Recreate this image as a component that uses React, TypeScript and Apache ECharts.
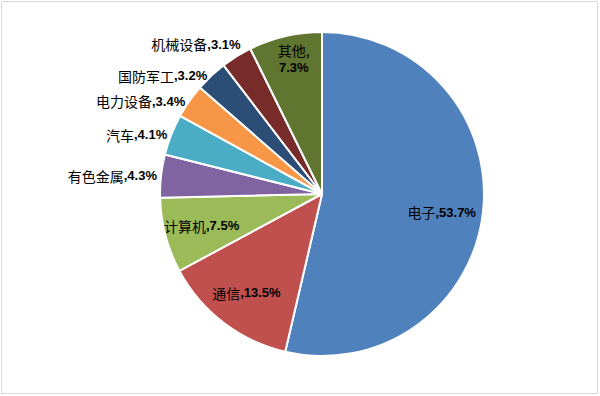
import React, { useEffect, useRef } from "react";
import * as echarts from "echarts";

const categories = ["电子", "通信", "计算机", "有色金属", "汽车", "电力设备", "国防军工", "机械设备", "其他"];
const values = [53.7, 13.5, 7.5, 4.3, 4.1, 3.4, 3.2, 3.1, 7.3];
const colors = ["#4F81BD", "#C0504D", "#9BBB59", "#8064A2", "#4BACC6", "#F79646", "#2C4D75", "#772C2A", "#5F7530"];
const insideLabels = ["电子", "通信", "计算机", "其他"];

export default function App() {
  const ref = useRef<HTMLDivElement>(null);
  useEffect(() => {
    if (!ref.current) return;
    const chart = echarts.init(ref.current, undefined, { renderer: "svg" });
    const rich = {
      a: {
        color: "#000",
        fontSize: 14,
        fontWeight: "normal" as const,
        fontFamily: "'Noto Sans CJK SC', sans-serif",
        lineHeight: 18,
      },
      n: {
        color: "#000",
        fontSize: 13,
        fontWeight: "bold" as const,
        fontFamily: "'Liberation Sans', sans-serif",
        lineHeight: 18,
      },
    };
    chart.setOption({
      animation: false,
      backgroundColor: "#fff",
      graphic: [
        {
          type: "rect",
          shape: { x: 1.5, y: 1.5, width: 596, height: 392 },
          style: { fill: "none", stroke: "#d9d9d9", lineWidth: 1 },
          silent: true,
        },
      ],
      series: [
        {
          type: "pie",
          center: [322, 194],
          radius: 162,
          startAngle: 90,
          clockwise: true,
          silent: true,
          label: { show: false },
          labelLine: { show: false },
          itemStyle: { borderColor: "#fff", borderWidth: 2 },
          data: categories.map((name, i) => ({
            name,
            value: values[i],
            itemStyle: { color: colors[i] },
          })),
        },
        {
          type: "pie",
          center: [322, 194],
          radius: [81, 162],
          startAngle: 90,
          clockwise: true,
          silent: true,
          avoidLabelOverlap: false,
          itemStyle: { color: "transparent", borderWidth: 0 },
          labelLine: { show: false, length: 0, length2: 0 },
          label: { color: "#000", rich, formatter: "{a|{b}}{n|,{c}%}", distanceToLabelLine: 4 },
          labelLayout: (p: any) =>
            p.dataIndex === categories.length - 1
              ? { dy: -14 }
              : p.dataIndex === 7
              ? { dx: 8, dy: -12 }
              : p.dataIndex === 0
              ? { dx: -4, dy: 4 }
              : {},
          data: categories.map((name, i) => {
            const inside = insideLabels.includes(name);
            return {
              name,
              value: values[i],
              label: {
                position: inside ? "inside" : "outside",
                formatter: name === "其他" ? "{a|{b},}\n{n|{c}%}" : "{a|{b}}{n|,{c}%}",
              },
            };
          }),
        },
      ],
    });
    return () => chart.dispose();
  }, []);
  return (
    <div
      ref={ref}
      style={{ position: "fixed", left: 0, top: 0, width: 600, height: 396, background: "#fff" }}
    />
  );
}
